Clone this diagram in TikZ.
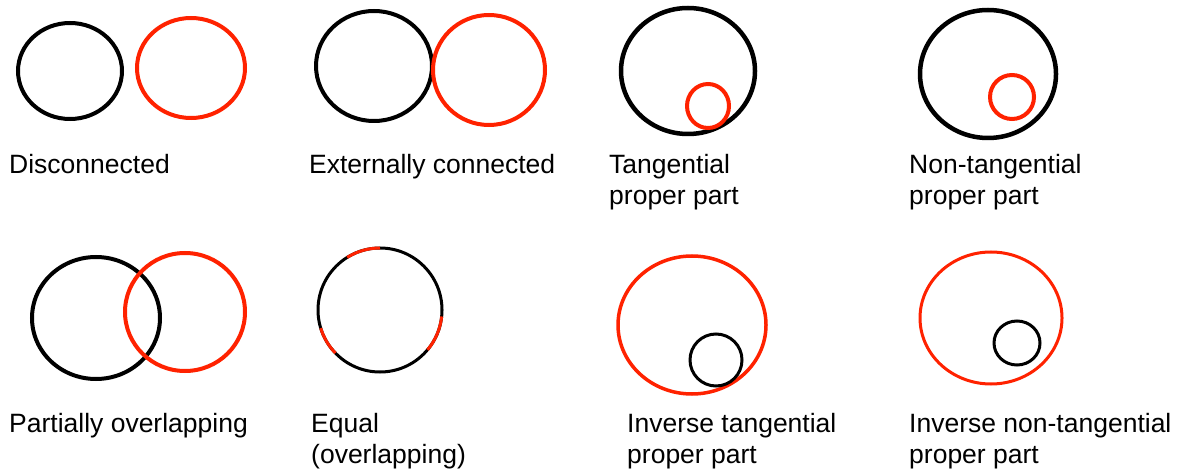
\documentclass[tikz,border=0pt]{standalone}
\usepackage{xcolor}
\usepackage{fontspec}
\setmainfont{Liberation Sans}
\usepackage{tikz}

\definecolor{regionred}{RGB}{255,34,0}

\tikzset{
  blk/.style={draw=black,line width=4pt},
  rd/.style={draw=regionred,line width=4pt},
  lbl/.style={anchor=base west,inner sep=0pt,align=left,
    font=\fontsize{26.5}{31}\selectfont}
}

\begin{document}
\begin{tikzpicture}[x=1pt,y=-1pt]
  \useasboundingbox (0,0) rectangle (1185,470);
  % Disconnected
  \draw[blk] (70,71) ellipse [x radius=52pt,y radius=48pt];
  \draw[rd] (191,68) ellipse [x radius=54pt,y radius=50pt];
  \node[lbl] (dc) at (9,174) {Disconnected};
  % Externally connected
  \draw[blk] (374,66) ellipse [x radius=58pt,y radius=55pt];
  \draw[rd] (489,70) ellipse [x radius=56pt,y radius=55pt];
  \node[lbl] (ec) at (309,174) {Externally connected};
  % Tangential proper part (base is the last line)
  \draw[blk,line width=4.5pt] (688,71) ellipse [x radius=67pt,y radius=63pt];
  \draw[rd] (708,106) ellipse [x radius=21pt,y radius=22pt];
  \node[lbl] (tpp) at (609,205) {Tangential\\proper part};
  % Non-tangential proper part
  \draw[blk,line width=4.5pt] (988,74) ellipse [x radius=68pt,y radius=64pt];
  \draw[rd] (1012,97) ellipse [x radius=22pt,y radius=22pt];
  \node[lbl] (ntpp) at (909,205) {Non-tangential\\proper part};
  % Partially overlapping
  \draw[blk] (96,318) ellipse [x radius=64pt,y radius=61pt];
  \draw[rd] (185,312) ellipse [x radius=60pt,y radius=59pt];
  \node[lbl] (po) at (9,432) {Partially overlapping};
  % Equal (overlapping)
  \draw[blk,line width=3pt] (380,310) circle [radius=62pt];
  \draw[rd,line width=3pt] (380,310) ++(122:62pt) arc[start angle=122,end angle=90,radius=62pt];
  \draw[rd,line width=3pt] (380,310) ++(-6:62pt) arc[start angle=-6,end angle=-40,radius=62pt];
  \draw[rd,line width=3pt] (380,310) ++(-136:62pt) arc[start angle=-136,end angle=-163,radius=62pt];
  \node[lbl] (eq) at (311,463) {Equal\\(overlapping)};
  % Inverse tangential proper part
  \draw[rd,line width=3.5pt] (692,325) ellipse [x radius=74pt,y radius=69pt];
  \draw[blk,line width=3pt] (716,360) ellipse [x radius=26pt,y radius=26pt];
  \node[lbl] (itpp) at (627,463) {Inverse tangential\\proper part};
  % Inverse non-tangential proper part
  \draw[rd,line width=3pt] (991,318) ellipse [x radius=71pt,y radius=66pt];
  \draw[blk,line width=3pt] (1017,343) ellipse [x radius=23pt,y radius=22pt];
  \node[lbl] (intpp) at (909,463) {Inverse non-tangential\\proper part};
\end{tikzpicture}
\end{document}
